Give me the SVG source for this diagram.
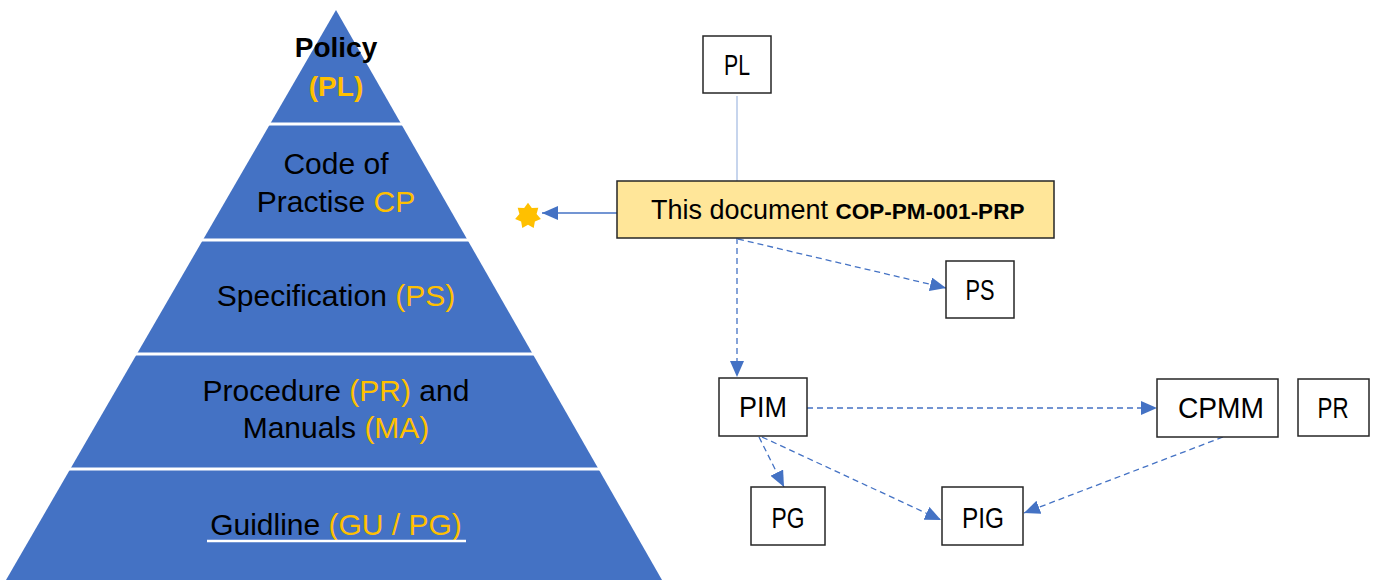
<svg xmlns="http://www.w3.org/2000/svg" width="1377" height="580" viewBox="0 0 1377 580">
<defs>
<style>
text{font-family:"Liberation Sans",Arial,sans-serif;}
.lvl{font-size:30px;fill:#000;text-anchor:middle;}
.y{fill:#FFC000;}
.box{fill:#fff;stroke:#262626;stroke-width:1.5;}
.lbl{font-size:29px;fill:#000;text-anchor:middle;}
.dash{fill:none;stroke:#4472C4;stroke-width:1.3;stroke-dasharray:6 4;}
.div{stroke:#fff;stroke-width:3;}
</style>
<marker id="ah" viewBox="0 0 16 14" refX="16" refY="7" markerWidth="16" markerHeight="14" markerUnits="userSpaceOnUse" orient="auto">
<path d="M0,0 L16,7 L0,14 Z" fill="#4472C4"/>
</marker>
</defs>
<rect width="1377" height="580" fill="#fff"/>

<g id="pyramid">
<polygon points="336,10 662,580 6,580" fill="#4472C4"/>
<line class="div" x1="0" y1="124" x2="680" y2="124"/>
<line class="div" x1="0" y1="240" x2="680" y2="240"/>
<line class="div" x1="0" y1="354" x2="680" y2="354"/>
<line class="div" x1="0" y1="469" x2="680" y2="469"/>
</g>

<g id="level-policy">
<text x="336" y="57" style="font-size:28px;font-weight:bold;text-anchor:middle">Policy</text>
<text x="336" y="96" class="y" style="font-size:28px;font-weight:bold;text-anchor:middle">(PL)</text>
</g>
<g id="level-cp">
<text x="336" y="174" class="lvl">Code of</text>
<text x="336" y="212" class="lvl">Practise <tspan class="y">CP</tspan></text>
</g>
<g id="level-ps">
<text x="336" y="306" class="lvl">Specification <tspan class="y">(PS)</tspan></text>
</g>
<g id="level-pr">
<text x="336" y="401" class="lvl">Procedure <tspan class="y">(PR)</tspan> and</text>
<text x="336" y="438" class="lvl">Manuals <tspan class="y">(MA)</tspan></text>
</g>
<g id="level-gu">
<text x="336" y="535" class="lvl">Guidline <tspan class="y">(GU / PG)</tspan></text>
<line x1="207" y1="541" x2="466" y2="541" stroke="#fff" stroke-width="2.5"/>
</g>

<g id="star">
<polygon transform="translate(528,216) scale(1.1)" fill="#FFC000" points="0,-12 3.47,-7.21 9.38,-7.48 7.8,-1.78 11.7,2.67 6.25,4.99 5.21,10.81 0,8 -5.21,10.81 -6.25,4.99 -11.7,2.67 -7.8,-1.78 -9.38,-7.48 -3.47,-7.21"/>
</g>

<g id="connectors">
<line x1="737" y1="96" x2="737" y2="181" stroke="#B4C7E7" stroke-width="1.5"/>
<line x1="617" y1="213" x2="542" y2="213" stroke="#4472C4" stroke-width="1.5" marker-end="url(#ah)"/>
<line class="dash" x1="737" y1="238" x2="737" y2="377" marker-end="url(#ah)"/>
<line class="dash" x1="738" y1="239" x2="946" y2="288" marker-end="url(#ah)"/>
<line class="dash" x1="807" y1="408" x2="1157" y2="408" marker-end="url(#ah)"/>
<line class="dash" x1="759" y1="437" x2="784" y2="487" stroke="#8FAADC" marker-end="url(#ah)"/>
<line class="dash" x1="762" y1="437" x2="941" y2="520" marker-end="url(#ah)"/>
<line class="dash" x1="1223" y1="437" x2="1024" y2="513" marker-end="url(#ah)"/>
</g>

<g id="node-pl">
<rect class="box" x="703" y="36" width="68" height="57"/>
<text class="lbl" x="737" y="75" textLength="26" lengthAdjust="spacingAndGlyphs">PL</text>
</g>
<g id="node-doc">
<rect x="617" y="181" width="437" height="57" fill="#FFE699" stroke="#262626" stroke-width="1.5"/>
<text x="651" y="219" style="font-size:27px">This document <tspan style="font-size:22.5px;font-weight:bold">COP-PM-001-PRP</tspan></text>
</g>
<g id="node-ps">
<rect class="box" x="946" y="261" width="68" height="57"/>
<text class="lbl" x="980" y="300" textLength="29" lengthAdjust="spacingAndGlyphs">PS</text>
</g>
<g id="node-pim">
<rect class="box" x="719" y="378" width="88" height="58"/>
<text class="lbl" x="763" y="417" textLength="48" lengthAdjust="spacingAndGlyphs">PIM</text>
</g>
<g id="node-cpmm">
<rect class="box" x="1157" y="379" width="121" height="58"/>
<text class="lbl" x="1221" y="418" textLength="86" lengthAdjust="spacingAndGlyphs">CPMM</text>
</g>
<g id="node-pr">
<rect class="box" x="1298" y="379" width="71" height="57"/>
<text class="lbl" x="1333" y="418" textLength="31" lengthAdjust="spacingAndGlyphs">PR</text>
</g>
<g id="node-pg">
<rect class="box" x="751" y="487" width="74" height="58"/>
<text class="lbl" x="788" y="528" textLength="33" lengthAdjust="spacingAndGlyphs">PG</text>
</g>
<g id="node-pig">
<rect class="box" x="942" y="487" width="81" height="58"/>
<text class="lbl" x="983" y="528" textLength="42" lengthAdjust="spacingAndGlyphs">PIG</text>
</g>
</svg>
